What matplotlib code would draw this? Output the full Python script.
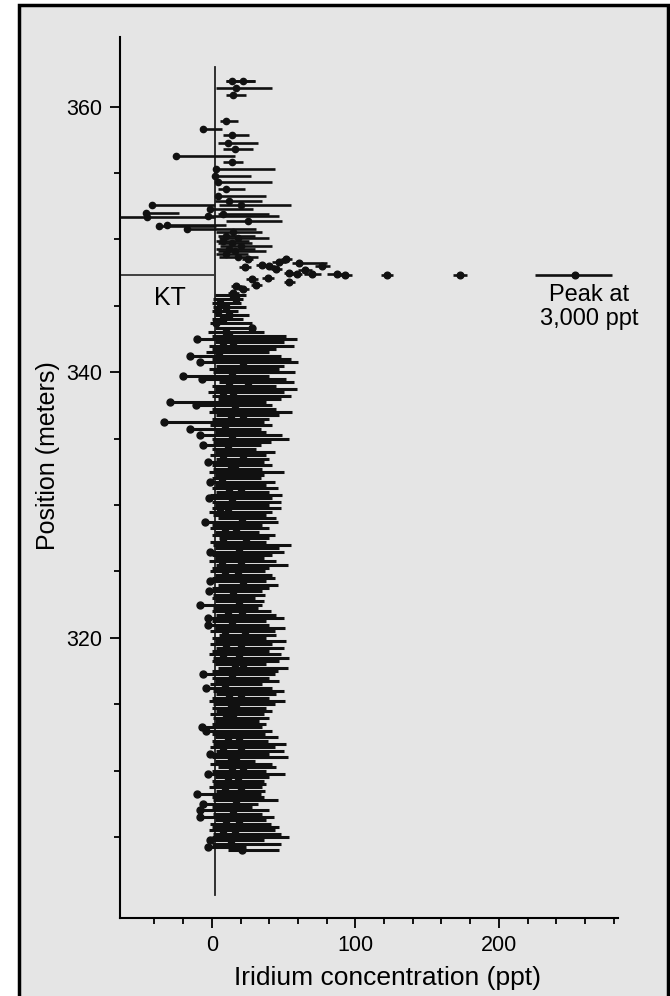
import matplotlib
matplotlib.use("Agg")
import matplotlib.pyplot as plt
from matplotlib.patches import Rectangle
import numpy as np

plt.rcParams['font.family'] = ['Liberation Sans', 'DejaVu Sans']

# ---- data ----
# each sample: position (m), iridium value (dot), left and right end of its bar (ppt)

# sparse samples above the boundary
upper_pos = [361.9, 361.9, 361.4, 360.9, 358.9, 358.35, 357.9, 357.3, 356.8, 356.3,
             355.8, 355.3, 354.8, 354.3, 353.8, 353.3, 352.9, 352.6, 352.6, 352.3,
             352.0, 351.9, 351.8, 351.7, 351.4, 351.1, 351.0, 350.8, 350.6, 350.3,
             350.1, 349.9, 349.7, 349.5, 349.3, 349.1, 348.9, 348.7]
upper_ir = [14, 22, 17, 15, 10, -6, 14, 11, 16, -25,
            14, 3, 2, 4, 10, 4, 12, -42, 20, -1,
            -46, 8, -3, -45, 25, -31, -37, -17, 15, 10,
            18, 8, 14, 20, 12, 16, 10, 18]
upper_left = [10, 10, 3, 10, 6, -6, 8, 4, 8, -25,
              8, 3, 2, 4, 4, 4, 2, -42, 5, -1,
              -46, 4, -3, -64, 10, -31, -37, -17, 3, 4,
              5, 3, 4, 6, 3, 4, 3, 5]
upper_right = [30, 30, 42, 24, 18, 7, 26, 32, 29, 16,
               22, 44, 27, 42, 23, 38, 35, 2, 55, 29,
               -23, 40, 47, 2, 49, 10, 3, 31, 35, 30,
               40, 26, 28, 42, 30, 38, 25, 32]

# scatter of high values at the KT boundary
peak_pos = [348.5, 348.1, 348.0, 348.3, 348.5, 347.5, 347.4, 347.4, 348.0, 347.4,
            347.9, 347.1, 346.8, 346.5, 346.6, 346.0, 347.7, 348.2, 347.8, 347.0,
            346.3, 347.3, 347.3, 347.3, 347.3]
peak_ir = [25, 35, 40, 47, 52, 54, 59, 70, 77, 87,
           23, 39, 54, 17, 31, 15, 65, 61, 45, 28,
           22, 93, 122, 173, 253]
peak_left = [21, 31, 36, 42, 48, 50, 55, 64, 72, 80,
             19, 35, 50, 13, 27, 11, 60, 56, 41, 24,
             18, 88, 118, 168, 225]
peak_right = [29, 39, 44, 52, 56, 58, 63, 76, 82, 94,
              27, 43, 58, 21, 35, 19, 70, 80, 49, 32,
              26, 98, 126, 178, 279]

# dense record below the boundary
lower_pos = [345.8, 345.5, 345.2, 344.9, 344.6, 344.3, 344.0, 343.7, 343.3, 343.0,
             342.75, 342.5, 342.25, 342.0, 341.75, 341.5, 341.25, 341.0, 340.75, 340.5,
             340.25, 340.0, 339.75, 339.5, 339.25, 339.0, 338.75, 338.5, 338.25, 338.0,
             337.75, 337.5, 337.25, 337.0, 336.75, 336.5, 336.25, 336.0, 335.75, 335.5,
             335.25, 335.0, 334.75, 334.5, 334.25, 334.0, 333.75, 333.5, 333.25, 333.0,
             332.75, 332.5, 332.25, 332.0, 331.75, 331.5, 331.25, 331.0, 330.75, 330.5,
             330.25, 330.0, 329.75, 329.5, 329.25, 329.0, 328.75, 328.5, 328.25, 328.0,
             327.75, 327.5, 327.25, 327.0, 326.75, 326.5, 326.25, 326.0, 325.75, 325.5,
             325.25, 325.0, 324.75, 324.5, 324.25, 324.0, 323.75, 323.5, 323.25, 323.0,
             322.75, 322.5, 322.25, 322.0, 321.75, 321.5, 321.25, 321.0, 320.75, 320.5,
             320.25, 320.0, 319.75, 319.5, 319.25, 319.0, 318.75, 318.5, 318.25, 318.0,
             317.75, 317.5, 317.25, 317.0, 316.75, 316.5, 316.25, 316.0, 315.75, 315.5,
             315.25, 315.0, 314.75, 314.5, 314.25, 314.0, 313.75, 313.5, 313.25, 313.0,
             312.75, 312.5, 312.25, 312.0, 311.75, 311.5, 311.25, 311.0, 310.75, 310.5,
             310.25, 310.0, 309.75, 309.5, 309.25, 309.0, 308.75, 308.5, 308.25, 308.0,
             307.75, 307.5, 307.25, 307.0, 306.75, 306.5, 306.25, 306.0, 305.75, 305.5,
             305.25, 305.0, 304.75, 304.5, 304.25, 304.0]
lower_ir = [15, 17, 6, 10, 4, 12, 8, 3, 28, 10,
            12, -10, 15, 8, 20, 5, -15, 18, -8, 22,
            10, 14, -20, -7, 25, 12, 18, 8, 15, 20,
            -29, -11, 16, 10, 22, 13, -33, 9, -15, 18,
            -8, 14, 20, -6, 11, 17, 8, 22, -3, 13,
            16, 10, 19, 7, -1, 15, 12, 20, 9, -2,
            14, 18, 11, 6, 16, 21, -5, 13, 9, 17,
            12, 24, 8, 15, 19, -1, 11, 16, 7, 20,
            13, 9, 18, 14, -1, 22, 10, -2, 15, 12,
            19, -8, 16, 11, 21, -3, 14, -3, 18, 9,
            23, 13, 17, 10, 20, 15, 8, 19, 12, 16,
            22, 11, -6, 14, 18, 9, -4, 16, 20, 12,
            7, 17, 13, 21, 10, 15, 18, 9, -7, -4,
            14, 19, 11, 16, 8, 20, -1, 13, 17, 10,
            22, 14, -3, 18, 11, 16, 9, 20, -10, 13,
            17, -6, 12, -8, 15, -8, 19, 10, 14, 8,
            16, 11, -1, 13, -3, 21]
lower_left = [2, 1, 0, 1, 0, 2, 0, -1, 2, -3,
              0, -10, 2, -2, 0, -4, -15, 0, -8, 3,
              -2, 1, -20, -7, 5, 0, 2, -3, 0, 4,
              -29, -11, 0, -2, 3, 0, -33, -1, -15, 2,
              -8, 0, 1, -6, 0, 2, -1, 3, -3, 0,
              1, -2, 2, 0, -1, 2, 0, 3, -1, -2,
              0, 2, 0, -2, 1, 4, -5, 0, -1, 2,
              0, 5, -1, 1, 2, -1, 0, 2, -2, 3,
              0, -1, 2, 0, -1, 4, 0, -2, 1, 0,
              2, -8, 1, 0, 3, -3, 0, -3, 2, -1,
              5, 0, 2, -1, 3, 0, -2, 1, 0, 2,
              4, 0, -6, 0, 2, -1, -4, 1, 3, 0,
              -2, 1, 0, 3, -1, 1, 2, 0, -7, -4,
              0, 2, 0, 1, -1, 3, -1, 0, 2, -1,
              4, 0, -3, 2, 0, 1, -2, 3, -10, 0,
              1, -6, 0, -8, 1, -8, 2, -1, 0, -2,
              1, 0, -1, 0, -3, 11]
lower_right = [24, 22, 20, 24, 18, 26, 22, 28, 30, 36,
               52, 59, 50, 57, 45, 40, 48, 55, 60, 50,
               47, 58, 40, 52, 57, 45, 59, 50, 55, 48,
               38, 42, 45, 56, 47, 40, 36, 42, 34, 38,
               49, 54, 41, 34, 31, 44, 38, 40, 36, 42,
               35, 50, 36, 34, 44, 38, 46, 40, 49, 42,
               48, 40, 48, 42, 38, 45, 46, 35, 40, 33,
               44, 40, 38, 55, 47, 50, 42, 36, 45, 53,
               40, 37, 42, 44, 38, 46, 40, 35, 37, 30,
               36, 35, 32, 41, 45, 50, 38, 40, 51, 44,
               45, 38, 52, 42, 50, 40, 48, 54, 47, 38,
               53, 46, 44, 40, 47, 35, 42, 50, 45, 40,
               51, 44, 38, 42, 36, 40, 33, 38, 35, 42,
               37, 46, 39, 52, 44, 50, 40, 53, 30, 42,
               45, 38, 51, 40, 36, 38, 35, 37, 34, 36,
               46, 32, 28, 40, 35, 43, 38, 41, 47, 44,
               48, 54, 36, 48, 24, 47]

# reference lines and labels
kt_pos = 347.35
line_x = 2
xlim = (-64, 283)
ylim = (298.9, 365.25)

fig = plt.figure(figsize=(6.7, 9.96), dpi=100, facecolor='white')
# scanned page background with its black frame
fig.patches.append(Rectangle((19 / 670, -0.02), (668 - 19) / 670, 0.02 + (996 - 5) / 996,
                             transform=fig.transFigure, facecolor='#e5e5e5',
                             edgecolor='black', linewidth=2.5, zorder=-10))

ax = fig.add_axes([120 / 670, 1 - 918 / 996, (618 - 120) / 670, (918 - 37) / 996])
ax.set_zorder(5)
ax.set_facecolor('none')

groups = [(upper_pos, upper_ir, upper_left, upper_right, 4.5, 1.9),
          (peak_pos, peak_ir, peak_left, peak_right, 4.8, 1.9),
          (lower_pos, lower_ir, lower_left, lower_right, 5.0, 2.2)]
for pos, ir, left, right, ms, lw in groups:
    pos = np.array(pos)
    ir = np.array(ir, dtype=float)
    err = [ir - np.array(left), np.array(right) - ir]
    ax.errorbar(ir, pos, xerr=err, fmt='o', color='#111111', ms=ms,
                elinewidth=lw, capsize=0, clip_on=False, zorder=3)

ax.plot([line_x, line_x], [300.6, 363.0], color='#222222', lw=1.3, zorder=2)
ax.plot([xlim[0], line_x], [kt_pos, kt_pos], color='#333333', lw=1.3, zorder=2)

ax.text(-29, 345.6, 'KT', fontsize=18, ha='center', va='center')
ax.text(263, 344.9, 'Peak at\n3,000 ppt', fontsize=17, ha='center', va='center',
        linespacing=1.1, clip_on=False)

ax.set_xlim(*xlim)
ax.set_ylim(*ylim)
for side in ['top', 'right']:
    ax.spines[side].set_visible(False)
for side in ['left', 'bottom']:
    ax.spines[side].set_linewidth(1.5)

ax.set_xticks([0, 100, 200])
ax.set_xticks([v for v in range(-40, 281, 20) if v % 100 != 0], minor=True)
ax.set_yticks([320, 340, 360])
ax.set_yticks([v for v in range(305, 361, 5) if v % 20 != 0], minor=True)
ax.tick_params(axis='both', which='major', length=7, width=1.3, labelsize=15.5)
ax.tick_params(axis='both', which='minor', length=4, width=1.3)
ax.tick_params(axis='x', which='major', pad=5)
ax.tick_params(axis='y', which='major', pad=6)

fig.text(387 / 670, 1 - 978 / 996, 'Iridium concentration (ppt)', fontsize=19,
         ha='center', va='center')
fig.text(48 / 670, 1 - 456 / 996, 'Position (meters)', fontsize=18,
         ha='center', va='center', rotation=90)

fig.savefig('out.png', dpi=100, facecolor=fig.get_facecolor())
